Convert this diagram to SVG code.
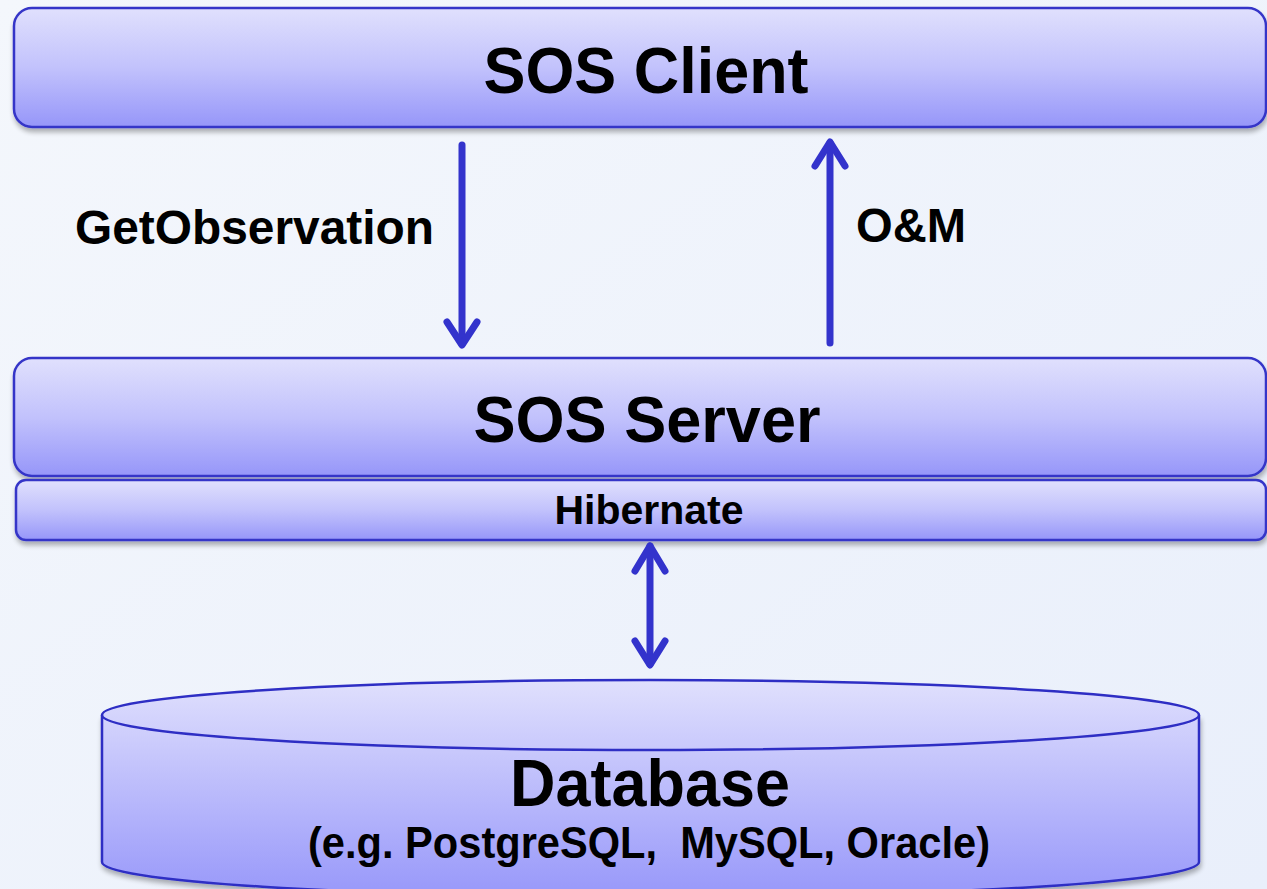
<svg xmlns="http://www.w3.org/2000/svg" width="1267" height="889" viewBox="0 0 1267 889">
<defs>
<linearGradient id="bg" x1="0" y1="0" x2="1" y2="1">
<stop offset="0" stop-color="#f4f7fc"/>
<stop offset="1" stop-color="#e9effb"/>
</linearGradient>
<linearGradient id="boxg" x1="0" y1="0" x2="0" y2="1">
<stop offset="0" stop-color="#e0e0fd"/>
<stop offset="0.5" stop-color="#c2c2fc"/>
<stop offset="1" stop-color="#9696f9"/>
</linearGradient>
<linearGradient id="cylg" x1="0" y1="680" x2="0" y2="889" gradientUnits="userSpaceOnUse">
<stop offset="0" stop-color="#e0e0fd"/>
<stop offset="1" stop-color="#9a9afa"/>
</linearGradient>
<filter id="sh" x="-5%" y="-20%" width="110%" height="150%">
<feGaussianBlur in="SourceAlpha" stdDeviation="2.5"/>
<feOffset dx="1" dy="4" result="b"/>
<feComponentTransfer><feFuncA type="linear" slope="0.3"/></feComponentTransfer>
<feMerge><feMergeNode/><feMergeNode in="SourceGraphic"/></feMerge>
</filter>
</defs>
<style>
.box{fill:url(#boxg);stroke:#3636c8;stroke-width:2.5;filter:url(#sh)}
.lbl{font-family:"Liberation Sans",Arial,sans-serif;font-weight:bold;fill:#000;text-anchor:middle}
.arr{fill:none;stroke:#3333cc;stroke-width:7;stroke-linecap:round;stroke-linejoin:round}
</style>
<rect width="1267" height="889" fill="url(#bg)"/>

<g id="client">
<rect class="box" x="14" y="8" width="1252" height="119" rx="18"/>
<text class="lbl" x="646" y="93" font-size="64" textLength="325" lengthAdjust="spacingAndGlyphs">SOS Client</text>
</g>

<g id="server">
<rect class="box" x="14" y="358" width="1252" height="118" rx="18"/>
<text class="lbl" x="647" y="442" font-size="64" textLength="347" lengthAdjust="spacingAndGlyphs">SOS Server</text>
</g>

<g id="hibernate">
<rect class="box" x="16" y="480" width="1250" height="60" rx="10"/>
<text class="lbl" x="649" y="524" font-size="40" textLength="189" lengthAdjust="spacingAndGlyphs">Hibernate</text>
</g>

<g id="database">
<path d="M102 715 L102 862 A548.5 35 0 0 0 1199 862 L1199 715" fill="url(#cylg)" stroke="#2e2ec4" stroke-width="2.5" filter="url(#sh)"/>
<ellipse cx="650.5" cy="715" rx="548.5" ry="35" fill="url(#cylg)" stroke="#2e2ec4" stroke-width="2.5"/>
<text class="lbl" x="650" y="806" font-size="67" textLength="280" lengthAdjust="spacingAndGlyphs">Database</text>
<text class="lbl" x="649" y="858" font-size="44" xml:space="preserve" textLength="682" lengthAdjust="spacingAndGlyphs">(e.g. PostgreSQL,  MySQL, Oracle)</text>
</g>

<g id="connectors">
<g class="arr">
<path d="M462 145 L462 344"/>
<path d="M447 322 L462 345 L477 322"/>
<path d="M830 343 L830 143"/>
<path d="M815 166 L830 142 L845 166"/>
<path d="M650 546 L650 664"/>
<path d="M635 571 L650 546 L665 571"/>
<path d="M635 641 L650 665 L665 641"/>
</g>
<text class="lbl" x="254.5" y="244" font-size="48" textLength="359" lengthAdjust="spacingAndGlyphs">GetObservation</text>
<text class="lbl" x="911" y="242" font-size="48" textLength="110" lengthAdjust="spacingAndGlyphs">O&amp;M</text>
</g>
</svg>
